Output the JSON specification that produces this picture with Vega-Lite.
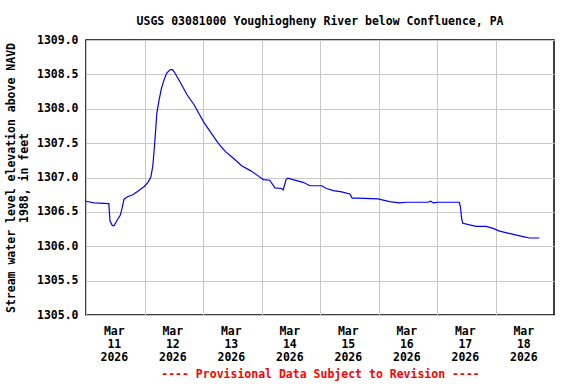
{
  "$schema": "https://vega.github.io/schema/vega-lite/v6.json",
  "autosize": {"type": "none"},
  "padding": {"left": 86, "top": 40, "right": 22, "bottom": 69},
  "width": 468,
  "height": 275,
  "background": "white",
  "title": {
    "text": "USGS 03081000 Youghiogheny River below Confluence, PA",
    "font": "DejaVu Sans Mono",
    "fontSize": 11.5,
    "fontWeight": "bold",
    "color": "black",
    "anchor": "middle",
    "baseline": "alphabetic",
    "offset": -2
  },
  "config": {
    "view": {"stroke": "black", "strokeWidth": 1.5},
    "axis": {
      "labelFont": "DejaVu Sans Mono",
      "labelFontWeight": "bold",
      "labelFontSize": 11.5,
      "labelColor": "black",
      "titleFont": "DejaVu Sans Mono",
      "titleFontWeight": "bold",
      "titleFontSize": 11.5,
      "titleColor": "black",
      "gridColor": "#c8c8c8",
      "gridWidth": 1,
      "gridOpacity": 1,
      "ticks": false,
      "tickSize": 0,
      "domain": false
    }
  },
  "data": {
    "values": [
      {"time": "2026-03-11T00:00", "stage": 1306.655},
      {"time": "2026-03-11T03:22", "stage": 1306.63},
      {"time": "2026-03-11T09:22", "stage": 1306.62},
      {"time": "2026-03-11T09:50", "stage": 1306.37},
      {"time": "2026-03-11T10:48", "stage": 1306.30},
      {"time": "2026-03-11T11:31", "stage": 1306.30},
      {"time": "2026-03-11T12:58", "stage": 1306.39},
      {"time": "2026-03-11T14:02", "stage": 1306.45},
      {"time": "2026-03-11T14:38", "stage": 1306.53},
      {"time": "2026-03-11T15:36", "stage": 1306.685},
      {"time": "2026-03-11T17:02", "stage": 1306.72},
      {"time": "2026-03-11T19:12", "stage": 1306.75},
      {"time": "2026-03-11T21:07", "stage": 1306.795},
      {"time": "2026-03-11T23:53", "stage": 1306.87},
      {"time": "2026-03-12T01:26", "stage": 1306.93},
      {"time": "2026-03-12T02:38", "stage": 1307.01},
      {"time": "2026-03-12T03:22", "stage": 1307.16},
      {"time": "2026-03-12T03:58", "stage": 1307.40},
      {"time": "2026-03-12T04:41", "stage": 1307.74},
      {"time": "2026-03-12T05:02", "stage": 1307.93},
      {"time": "2026-03-12T06:00", "stage": 1308.13},
      {"time": "2026-03-12T06:58", "stage": 1308.30},
      {"time": "2026-03-12T08:02", "stage": 1308.42},
      {"time": "2026-03-12T09:07", "stage": 1308.52},
      {"time": "2026-03-12T10:34", "stage": 1308.57},
      {"time": "2026-03-12T11:31", "stage": 1308.57},
      {"time": "2026-03-12T12:29", "stage": 1308.52},
      {"time": "2026-03-12T14:53", "stage": 1308.37},
      {"time": "2026-03-12T17:31", "stage": 1308.20},
      {"time": "2026-03-12T20:24", "stage": 1308.055},
      {"time": "2026-03-12T22:19", "stage": 1307.93},
      {"time": "2026-03-13T00:14", "stage": 1307.81},
      {"time": "2026-03-13T02:53", "stage": 1307.67},
      {"time": "2026-03-13T06:14", "stage": 1307.50},
      {"time": "2026-03-13T09:07", "stage": 1307.38},
      {"time": "2026-03-13T12:29", "stage": 1307.28},
      {"time": "2026-03-13T15:50", "stage": 1307.17},
      {"time": "2026-03-13T19:26", "stage": 1307.10},
      {"time": "2026-03-13T22:48", "stage": 1307.02},
      {"time": "2026-03-14T00:43", "stage": 1306.97},
      {"time": "2026-03-14T03:22", "stage": 1306.96},
      {"time": "2026-03-14T05:31", "stage": 1306.85},
      {"time": "2026-03-14T08:10", "stage": 1306.84},
      {"time": "2026-03-14T08:53", "stage": 1306.82},
      {"time": "2026-03-14T10:05", "stage": 1306.97},
      {"time": "2026-03-14T10:48", "stage": 1306.99},
      {"time": "2026-03-14T14:24", "stage": 1306.955},
      {"time": "2026-03-14T17:02", "stage": 1306.93},
      {"time": "2026-03-14T19:55", "stage": 1306.88},
      {"time": "2026-03-15T00:43", "stage": 1306.88},
      {"time": "2026-03-15T02:38", "stage": 1306.84},
      {"time": "2026-03-15T05:31", "stage": 1306.81},
      {"time": "2026-03-15T08:53", "stage": 1306.79},
      {"time": "2026-03-15T12:14", "stage": 1306.76},
      {"time": "2026-03-15T13:12", "stage": 1306.70},
      {"time": "2026-03-15T15:36", "stage": 1306.70},
      {"time": "2026-03-15T23:46", "stage": 1306.69},
      {"time": "2026-03-16T04:34", "stage": 1306.65},
      {"time": "2026-03-16T08:38", "stage": 1306.63},
      {"time": "2026-03-16T11:31", "stage": 1306.64},
      {"time": "2026-03-16T20:24", "stage": 1306.64},
      {"time": "2026-03-16T21:22", "stage": 1306.655},
      {"time": "2026-03-16T22:34", "stage": 1306.63},
      {"time": "2026-03-17T00:29", "stage": 1306.64},
      {"time": "2026-03-17T09:07", "stage": 1306.64},
      {"time": "2026-03-17T09:36", "stage": 1306.58},
      {"time": "2026-03-17T10:05", "stage": 1306.41},
      {"time": "2026-03-17T10:34", "stage": 1306.335},
      {"time": "2026-03-17T13:26", "stage": 1306.31},
      {"time": "2026-03-17T16:05", "stage": 1306.29},
      {"time": "2026-03-17T20:10", "stage": 1306.29},
      {"time": "2026-03-17T23:02", "stage": 1306.26},
      {"time": "2026-03-18T01:41", "stage": 1306.22},
      {"time": "2026-03-18T06:29", "stage": 1306.18},
      {"time": "2026-03-18T11:17", "stage": 1306.14},
      {"time": "2026-03-18T13:55", "stage": 1306.12},
      {"time": "2026-03-18T18:00", "stage": 1306.12}
    ]
  },
  "mark": {"type": "line", "color": "#0000ff", "strokeWidth": 1.2, "clip": true},
  "encoding": {
    "x": {
      "field": "time",
      "type": "temporal",
      "scale": {
        "domain": [
          {"year": 2026, "month": 3, "date": 11},
          {"year": 2026, "month": 3, "date": 19}
        ]
      },
      "axis": {
        "title": "---- Provisional Data Subject to Revision ----",
        "titleColor": "#ff0000",
        "titlePadding": 6,
        "values": [
          {"year": 2026, "month": 3, "date": 11},
          {"year": 2026, "month": 3, "date": 12},
          {"year": 2026, "month": 3, "date": 13},
          {"year": 2026, "month": 3, "date": 14},
          {"year": 2026, "month": 3, "date": 15},
          {"year": 2026, "month": 3, "date": 16},
          {"year": 2026, "month": 3, "date": 17},
          {"year": 2026, "month": 3, "date": 18}
        ],
        "labelExpr": "[timeFormat(datum.value, '%b'), timeFormat(datum.value, '%d'), timeFormat(datum.value, '%Y')]",
        "labelOffset": 27.8,
        "labelAlign": "center",
        "labelFlush": false,
        "labelOverlap": false,
        "labelPadding": 10,
        "labelLineHeight": 13,
        "grid": true
      }
    },
    "y": {
      "field": "stage",
      "type": "quantitative",
      "scale": {"domain": [1305, 1309], "zero": false, "nice": false},
      "axis": {
        "title": ["Stream water level elevation above NAVD", "1988, in feet"],
        "titleLineHeight": 13,
        "titlePadding": 7,
        "values": [1305, 1305.5, 1306, 1306.5, 1307, 1307.5, 1308, 1308.5, 1309],
        "format": ".1f",
        "labelPadding": 8,
        "grid": true
      }
    }
  }
}
